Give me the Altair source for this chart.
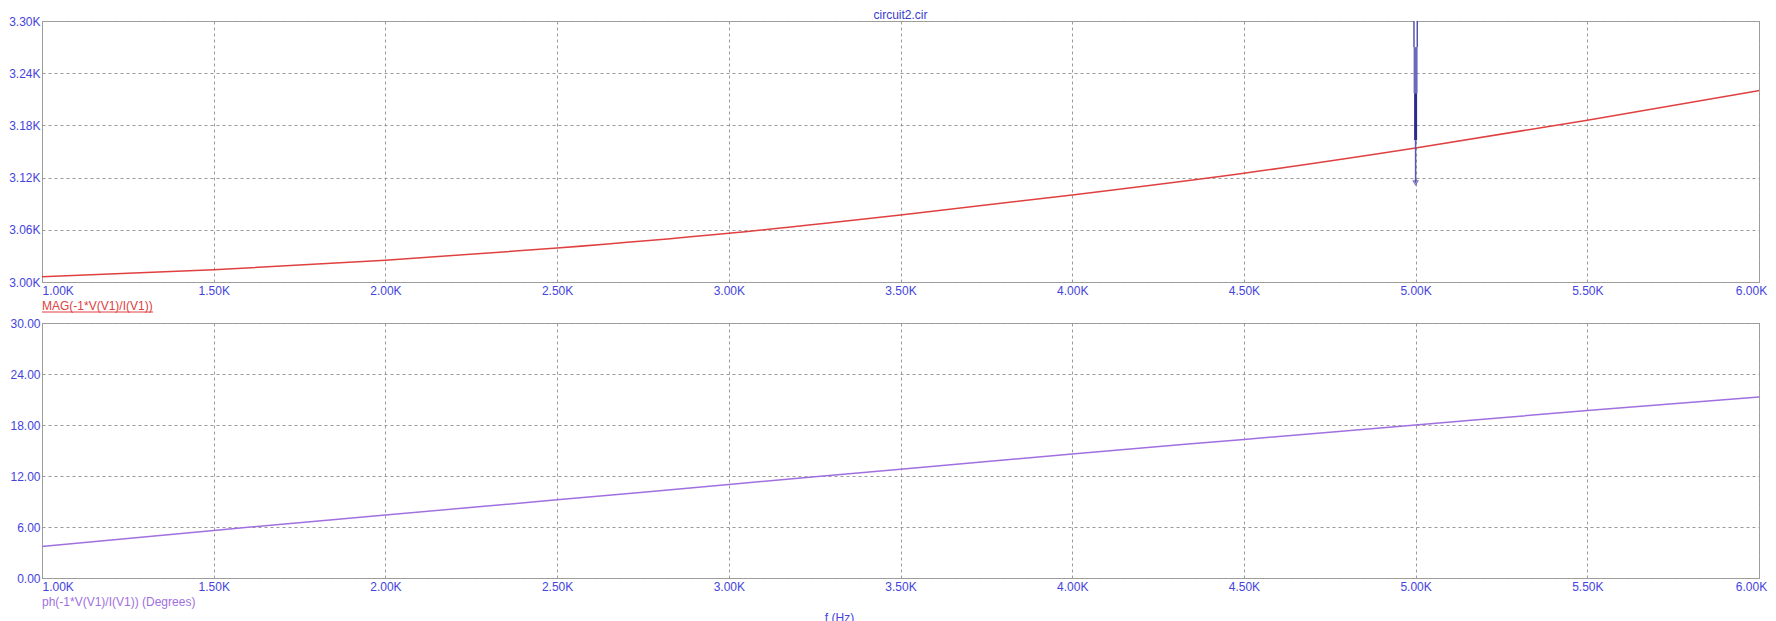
import altair as alt
import pandas as pd

# ---- data ----
freq_hz = [1000, 1500, 2000, 2500, 3000, 3500, 4000, 4500, 5000, 5500, 6000]
mag_ohm = [3006, 3014, 3025, 3039, 3056, 3077, 3100, 3125, 3154, 3186, 3220]
phase_deg = [3.7, 5.6, 7.4, 9.2, 11.0, 12.8, 14.6, 16.3, 18.0, 19.7, 21.3]

x_ticks = [1000, 1500, 2000, 2500, 3000, 3500, 4000, 4500, 5000, 5500, 6000]
mag_ticks = [3000, 3060, 3120, 3180, 3240, 3300]
phase_ticks = [0, 6, 12, 18, 24, 30]

# cursor marker drawn at 5.00K (segments from top of plot downwards)
marker_f = 5000
marker_hollow = [3300, 3270]
marker_hatched = [3270, 3217]
marker_solid = [3217, 3163]
marker_thin = [3163, 3114]

title_text = "circuit2.cir"
mag_label = "MAG(-1*V(V1)/I(V1))"
phase_label = "ph(-1*V(V1)/I(V1)) (Degrees)"
x_title = "f (Hz)"

df = pd.DataFrame({"f": freq_hz, "mag": mag_ohm, "ph": phase_deg})

FONT = "Liberation Sans"
BLUE = "#4444dd"
RED = "#e04040"
PURPLE = "#a070e0"
W = 1717

x_scale = alt.Scale(domain=[1000, 6000], nice=False, zero=False)
label_align = {"condition": {"test": "datum.value == 1000", "value": "left"}, "value": "center"}
label_offset = {"condition": {"test": "datum.value == 6000", "value": -8}, "value": 0}


def x_axis(title=None, **kw):
    args = dict(
        values=x_ticks,
        labelExpr="format(datum.value/1000, '.2f') + 'K'",
        labelAlign=label_align,
        labelOffset=label_offset,
        labelFlush=False,
        labelOverlap=False,
        labelPadding=3,
    )
    args.update(kw)
    args["title"] = title
    return alt.Axis(**args)


# ---------------- top panel ----------------
TOP_H = 261
y_top = alt.Scale(domain=[3000, 3300], nice=False, zero=False)

mag_line = alt.Chart(df).mark_line(color=RED, strokeWidth=1.5, interpolate="monotone").encode(
    x=alt.X("f:Q", scale=x_scale, axis=x_axis()),
    y=alt.Y("mag:Q", scale=y_top, axis=alt.Axis(
        values=mag_ticks, labelExpr="format(datum.value/1000, '.2f') + 'K'", title=None,
        labelOverlap=False, labelFlush=False)),
)


def seg(vals, color, width):
    d = pd.DataFrame({"f": [marker_f], "y1": [vals[0]], "y2": [vals[1]]})
    return alt.Chart(d).mark_rule(color=color, strokeWidth=width).encode(
        x=alt.X("f:Q", scale=x_scale), y=alt.Y("y1:Q", scale=y_top), y2="y2:Q")


m_hollow_out = seg(marker_hollow, "#34349a", 4.5)
m_hollow_in = seg(marker_hollow, "#ffffff", 2)
m_hatched = seg(marker_hatched, "#6a6abc", 4)
m_solid = seg(marker_solid, "#2c2c8c", 3)
m_thin = seg(marker_thin, "#5a5ab4", 1.5)
m_tri = alt.Chart(pd.DataFrame({"f": [marker_f], "y": [marker_thin[1]]})).mark_point(
    shape="triangle-down", size=22, filled=False, color="#4a4aa8", strokeWidth=1.2
).encode(x=alt.X("f:Q", scale=x_scale), y=alt.Y("y:Q", scale=y_top))

mag_text = alt.Chart(pd.DataFrame({"t": [mag_label]})).mark_text(
    align="left", baseline="middle", color=RED, font=FONT, fontSize=12
).encode(x=alt.value(0), y=alt.value(TOP_H + 24), text="t:N")
mag_underline = alt.Chart(pd.DataFrame({"t": [mag_label]})).mark_rule(color=RED, strokeWidth=1).encode(
    x=alt.value(0), x2=alt.value(111), y=alt.value(TOP_H + 30))

top = alt.layer(
    mag_line, m_hollow_out, m_hollow_in, m_hatched, m_solid, m_thin, m_tri, mag_text, mag_underline
).properties(
    width=W, height=TOP_H,
    title=alt.TitleParams(title_text, color="#3a3ad0", font=FONT, fontSize=12, fontWeight="normal",
                          anchor="middle", offset=-7),
)

# ---------------- bottom panel ----------------
BOT_H = 255
y_bot = alt.Scale(domain=[0, 30], nice=False, zero=False)

ph_line = alt.Chart(df).mark_line(color=PURPLE, strokeWidth=1.5, interpolate="monotone").encode(
    x=alt.X("f:Q", scale=x_scale, axis=x_axis(
        title=x_title, titleX=797, titleY=39, titleAlign="center", titleBaseline="middle",
        titleAnchor="start", titleColor=BLUE, titleFontWeight="normal", titleFontSize=12, titleFont=FONT)),
    y=alt.Y("ph:Q", scale=y_bot, axis=alt.Axis(
        values=phase_ticks, format=".2f", title=None, labelOverlap=False, labelFlush=False)),
)
ph_text = alt.Chart(pd.DataFrame({"t": [phase_label]})).mark_text(
    align="left", baseline="middle", color=PURPLE, font=FONT, fontSize=12
).encode(x=alt.value(0), y=alt.value(BOT_H + 24), text="t:N")

bottom = alt.layer(ph_line, ph_text).properties(width=W, height=BOT_H)

chart = alt.vconcat(top, bottom, spacing=41, bounds="flush").resolve_scale(
    y="independent"
).properties(
    padding={"left": 0, "top": 0, "right": 0, "bottom": 0},
    background="#ffffff",
).configure_view(
    stroke="#a0a0a0", strokeWidth=1
).configure_axis(
    domain=False, ticks=False, grid=True, gridColor="#9a9a9a", gridDash=[3, 3], gridWidth=1,
    labelColor=BLUE, labelFont=FONT, labelFontSize=12, labelPadding=2,
)

chart.save("out.html", embed_options={"renderer": "svg", "actions": False})
